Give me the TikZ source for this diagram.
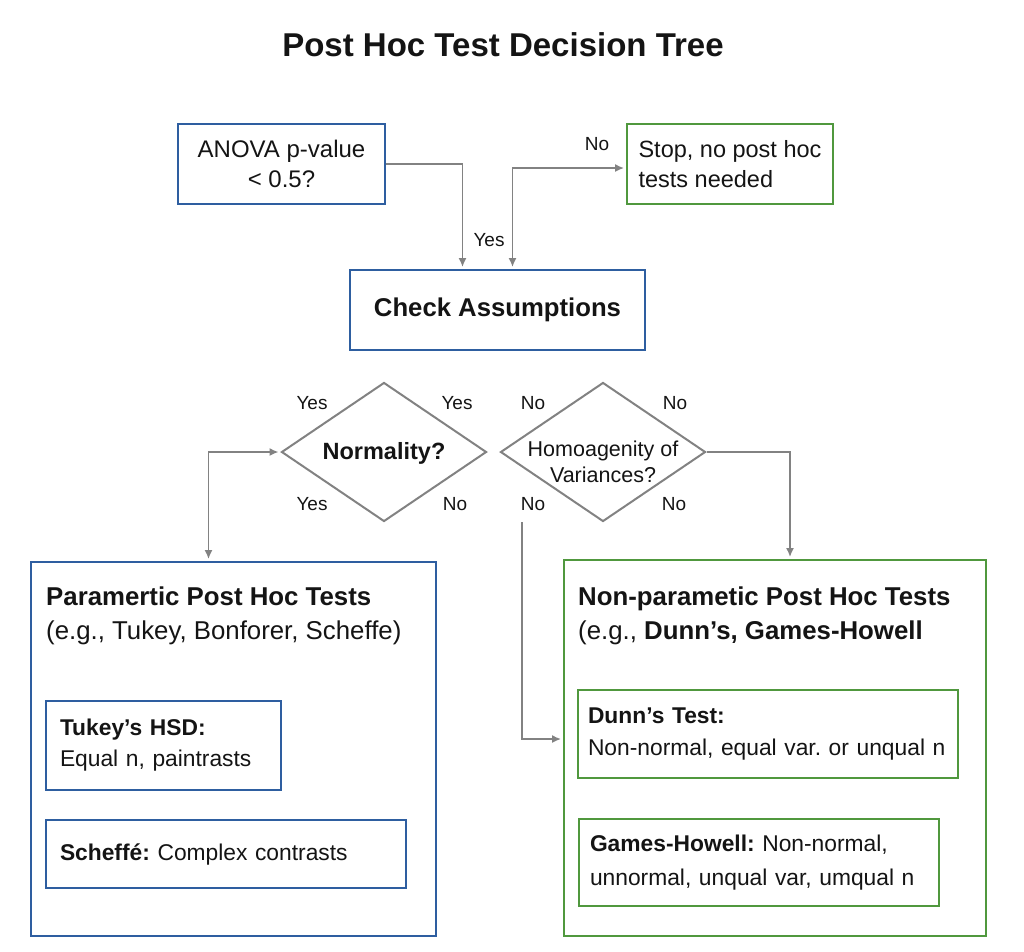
\documentclass[tikz,border=0pt]{standalone}
\usepackage{amsmath, tikz}
\usepackage{fontspec}
\setmainfont{Liberation Sans}
\usetikzlibrary{shapes.geometric, arrows.meta}
\definecolor{boxblue}{RGB}{46,94,160}
\definecolor{boxgreen}{RGB}{80,152,62}
\definecolor{wiregray}{RGB}{130,130,130}
\frenchspacing

\begin{document}
\begin{tikzpicture}[x=1pt, y=-1pt,
  every node/.style={text=black!92},
  bluebox/.style={draw=boxblue, line width=2pt, inner sep=0pt},
  greenbox/.style={draw=boxgreen, line width=2pt, inner sep=0pt},
  decision/.style={diamond, draw=wiregray, line width=2pt, inner sep=0pt, minimum width=205pt, minimum height=139pt},
  wire/.style={-{Latex[length=9pt,width=8pt]}, wiregray, line width=1.5pt, shorten >=2pt},
  twowire/.style={{Latex[length=9pt,width=8pt]}-{Latex[length=9pt,width=8pt]}, wiregray, line width=1.5pt, shorten >=2pt, shorten <=2pt},
  answer/.style={font=\fontsize{19}{22}\selectfont},
  textin/.style={align=left, font=\fontsize{22.8}{31}\selectfont}]
\useasboundingbox (0,0) rectangle (1024,951);
% Draw title
\node[font=\bfseries\fontsize{33}{38}\selectfont] (title) at (503,45) {Post Hoc Test Decision Tree};
% Draw top boxes
\node[bluebox, minimum width=207pt, minimum height=80pt, align=center, font=\fontsize{24}{30}\selectfont] (anova) at (281.5,164) {\raisebox{-2pt}{ANOVA p-value}\\\raisebox{-2pt}{< 0.5?}};
\node[greenbox, minimum width=206pt, minimum height=80pt, align=left, font=\fontsize{23.5}{30}\selectfont] (stop) at (730,164) {\raisebox{-2pt}{Stop, no post hoc}\\\raisebox{-2pt}{tests needed}};
\node[bluebox, minimum width=295pt, minimum height=80pt, font=\bfseries\fontsize{25.7}{30}\selectfont] (check) at (497.5,310) {\raisebox{-3pt}{Check Assumptions}};
% Draw decisions
\node[decision] (norm) at (384,452) {};
\node[font=\bfseries\fontsize{23.5}{28}\selectfont] (normtext) at (384,453) {Normality?};
\node[decision] (homog) at (603,452) {};
\node[align=center, font=\fontsize{21.5}{26}\selectfont] (homogtext) at (603,462) {Homoagenity of\\Variances?};
% Draw answer labels
\node[answer] (yesanova) at (489,240) {Yes};
\node[answer] (noanova) at (597,144) {No};
\node[answer] (yes1) at (312,403) {Yes};
\node[answer] (yes2) at (457,403) {Yes};
\node[answer] (yes3) at (312,504) {Yes};
\node[answer] (no1) at (455,504) {No};
\node[answer] (no2) at (533,403) {No};
\node[answer] (no3) at (675,403) {No};
\node[answer] (no4) at (533,504) {No};
\node[answer] (no5) at (674,504) {No};
% Draw test boxes
\node[bluebox, minimum width=405pt, minimum height=374pt] (param) at (233.5,749) {};
\node[anchor=north west, inner sep=0pt, align=left, font=\fontsize{25.8}{34}\selectfont] (paramhead) at ([xshift=16pt,yshift=-26pt]param.north west) {\textbf{Paramertic Post Hoc Tests}\\(e.g., Tukey, Bonforer, Scheffe)};
\node[bluebox, minimum width=235pt, minimum height=89pt, text width=207pt, textin] (tukey) at (163.5,745.5) {\textbf{Tukey’s HSD:}\\Equal n, paintrasts};
\node[bluebox, minimum width=360pt, minimum height=68pt, text width=332pt, textin] (scheffe) at (226,854) {\textbf{Scheffé:} Complex contrasts};
\node[greenbox, minimum width=422pt, minimum height=376pt] (nonpar) at (775,748) {};
\node[anchor=north west, inner sep=0pt, align=left, font=\fontsize{25.8}{34}\selectfont] (nonparhead) at ([xshift=15pt,yshift=-28pt]nonpar.north west) {\textbf{Non-parametic Post Hoc Tests}\\(e.g., \textbf{Dunn’s, Games-Howell}};
\node[greenbox, minimum width=380pt, minimum height=88pt, text width=360pt, textin, font=\fontsize{22.8}{32}\selectfont] (dunn) at (768,734) {\textbf{Dunn’s Test:}\\\mbox{Non-normal, equal var. or unqual n}};
\node[greenbox, minimum width=360pt, minimum height=87pt, text width=338pt, textin, font=\fontsize{22.8}{34}\selectfont] (games) at (759,862.5) {\textbf{Games-Howell:} Non-normal,\\unnormal, unqual var, umqual n};
% Draw connectors
\draw[wire] (anova.east) -| ([xshift=-35pt]check.north);
\draw[twowire] ([xshift=15pt]check.north) |- ([yshift=-4pt]stop.west);
\draw[twowire] ([xshift=-25pt]param.north) |- (norm.west);
\draw[wire] (homog.east) -| ([xshift=15pt]nonpar.north);
\coordinate (nostart) at (522,522);
\draw[wire] (nostart) |- ([yshift=-5pt]nonpar.west |- dunn.west);
\end{tikzpicture}
\end{document}
